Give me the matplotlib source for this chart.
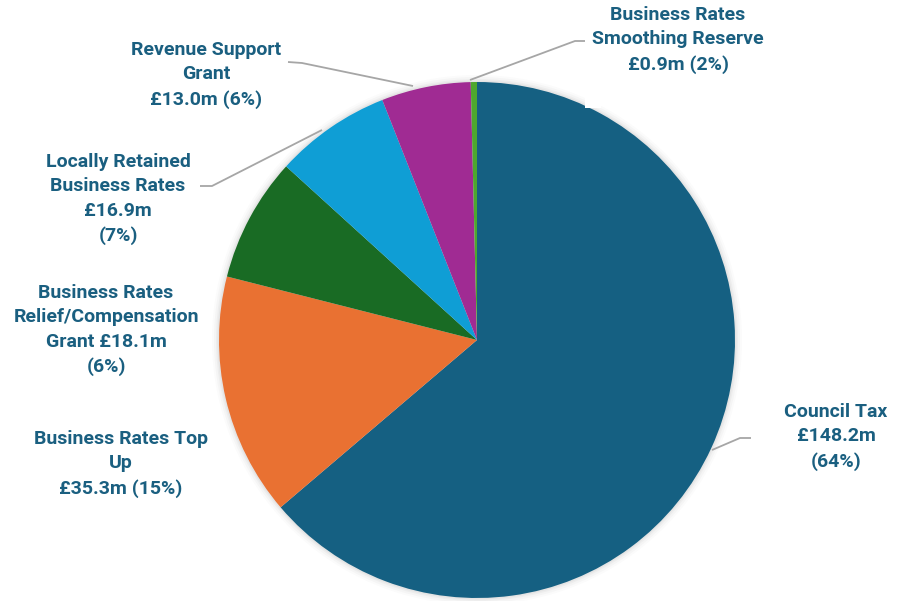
import matplotlib
matplotlib.use("Agg")
import matplotlib.pyplot as plt
from matplotlib.patches import Circle, Rectangle

# Funding sources (£m), clockwise from 12 o'clock
categories = [
    "Council Tax",
    "Business Rates Top Up",
    "Business Rates Relief/Compensation Grant",
    "Locally Retained Business Rates",
    "Revenue Support Grant",
    "Business Rates Smoothing Reserve",
]
values = [148.2, 35.3, 18.1, 16.9, 13.0, 0.9]
label_texts = [
    "Council Tax\n£148.2m\n(64%)",
    "Business Rates Top\nUp\n£35.3m (15%)",
    "Business Rates\nRelief/Compensation\nGrant £18.1m\n(6%)",
    "Locally Retained\nBusiness Rates\n£16.9m\n(7%)",
    "Revenue Support\nGrant\n£13.0m (6%)",
    "Business Rates\nSmoothing Reserve\n£0.9m (2%)",
]
colors = ["#156082", "#E97132", "#196B24", "#0F9ED5", "#A02B93", "#4EA72E"]

W, H = 905, 601
fig = plt.figure(figsize=(W / 100, H / 100), dpi=100)
ax = fig.add_axes([0, 0, 1, 1])
ax.set_xlim(0, W)
ax.set_ylim(0, H)
ax.set_aspect("equal")
ax.axis("off")


def py(y):
    return H - y


cx, cy, r = 477, py(340), 258

# soft glow behind the pie
for k, a in [(7, 0.04), (5, 0.06), (3, 0.08), (1.5, 0.10)]:
    ax.add_patch(Circle((cx, cy), r + k, color="#9a9a9a", alpha=a, lw=0, zorder=1))

ax.pie(values, colors=colors, startangle=90, counterclock=False,
       center=(cx, cy), radius=r, frame=True,
       wedgeprops=dict(linewidth=0, zorder=2))
ax.set_xlim(0, W)
ax.set_ylim(0, H)
ax.axis("off")

# small white text-box patch overlapping the top right edge
ax.add_patch(Rectangle((585, py(108)), 16, 10, color="white", lw=0, zorder=3))

txt_color = "#1A5F80"
font = dict(family="Roboto", fontweight="bold", fontsize=14, color=txt_color,
            ha="center", va="center", linespacing=1.47, zorder=5)

label_pos = [
    (836, 437),
    (121, 464),
    (106, 330),
    (118, 199),
    (206, 75),
    (678, 40),
]
for t, (x, y) in zip(label_texts, label_pos):
    ax.text(x, py(y), t, **font)

# leader lines
leaders = [
    [(712, 450), (740, 438), (751, 438)],
    [(413, 86), (302, 63), (288, 62)],
    [(322, 130), (212, 186), (200, 186)],
    [(470, 80), (575, 41), (585, 41)],
]
for pts in leaders:
    xs = [p[0] for p in pts]
    ys = [py(p[1]) for p in pts]
    ax.plot(xs, ys, color="#a6a6a6", lw=1.3, zorder=4, solid_capstyle="butt")

fig.savefig("out.png", dpi=100, facecolor="white")
